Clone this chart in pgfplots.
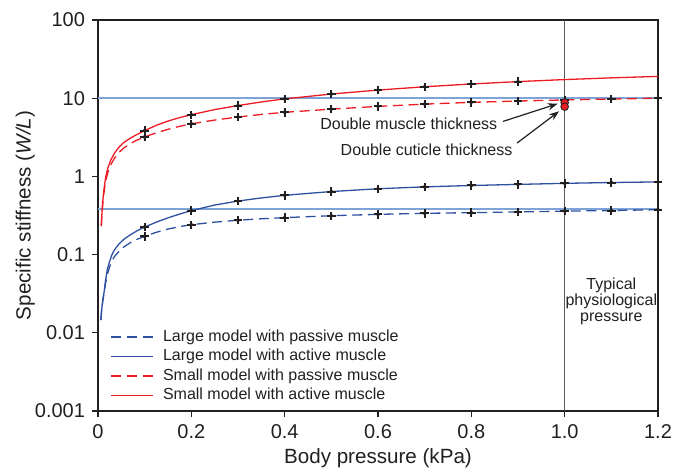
\documentclass[border=0pt]{standalone}
\usepackage{fontspec}
\setmainfont{Liberation Sans}
\usepackage{pgfplots}
\pgfplotsset{compat=1.18}
\usetikzlibrary{arrows.meta}
\definecolor{myred}{RGB}{237,28,36}
\definecolor{myblue}{RGB}{46,80,160}
\definecolor{lblue}{RGB}{125,163,215}
\definecolor{axgray}{RGB}{35,31,32}
\definecolor{vgray}{RGB}{90,90,90}
\pgfdeclareplotmark{pd}{%
  \pgfpathmoveto{\pgfqpoint{-\pgfplotmarksize}{0pt}}%
  \pgfpathlineto{\pgfqpoint{\pgfplotmarksize}{0pt}}%
  \pgfpathmoveto{\pgfqpoint{0pt}{-\pgfplotmarksize}}%
  \pgfpathlineto{\pgfqpoint{0pt}{\pgfplotmarksize}}%
  \pgfusepathqstroke
  \pgfpathmoveto{\pgfqpoint{-1.1pt}{0pt}}%
  \pgfpathlineto{\pgfqpoint{0pt}{1.2pt}}%
  \pgfpathlineto{\pgfqpoint{1.1pt}{0pt}}%
  \pgfpathlineto{\pgfqpoint{0pt}{-1.2pt}}%
  \pgfpathclose
  \pgfusepathqfill
}
\begin{document}
\begin{tikzpicture}
\path[use as bounding box] (-49pt,-31.5pt) rectangle (293.5pt,205.5pt);
\begin{axis}[
  scale only axis, width=280pt, height=195.5pt,
  at={(0pt,0pt)}, anchor=south west,
  xmin=0, xmax=1.2, ymin=0.001, ymax=100, ymode=log,
  xtick={0,0.2,0.4,0.6,0.8,1.0,1.2},
  xticklabels={0,0.2,0.4,0.6,0.8,1.0,1.2},
  ytick={0.001,0.01,0.1,1,10,100},
  yticklabels={0.001,0.01,0.1,1,10,100},
  yminorticks=false, xminorticks=false,
  tick align=outside, xtick pos=bottom, ytick pos=left,
  major tick length=3pt,
  tick style={axgray, line width=0.6pt},
  axis line style={axgray, line width=0.75pt},
  ticklabel style={font=\fontsize{10}{12}\selectfont, text=axgray},
  label style={font=\fontsize{10.3}{12}\selectfont, text=axgray},
  xlabel={Body pressure (kPa)},
  ylabel={Specific stiffness (\textit{W/L})},
  xlabel style={at={(axis description cs:0.5,-0.12)}, anchor=center},
  ylabel style={at={(axis description cs:-0.13,0.5)}, anchor=center},
  clip=false,
  legend cell align=left,
  legend style={draw=none, fill=none, at={(axis description cs:0.022,0.215)}, anchor=north west,
    font=\fontsize{8}{9.6}\selectfont, text=axgray, row sep=0pt, column sep=3.5pt, inner sep=0pt,
    nodes={inner sep=1pt, text height=6pt, text depth=1.75pt}},
  legend image code/.code={\draw[#1] (0pt,0pt) -- (21pt,0pt);},
]
% reference lines
\addplot[lblue, line width=0.8pt, forget plot] coordinates {(0,10) (1.2,10)};
\addplot[lblue, line width=0.8pt, forget plot] coordinates {(0,0.38) (1.2,0.38)};
\addplot[vgray, line width=0.5pt, forget plot] coordinates {(1,0.001) (1,100)};

% Large model, passive muscle
\addplot[myblue, line width=0.65pt, dash pattern=on 5pt off 2.8pt] coordinates {
(0.006,0.0145)(0.008,0.02)(0.0105,0.026)(0.013,0.032)(0.016,0.042)(0.02,0.056)
(0.025,0.07)(0.03,0.083)(0.035,0.094)(0.045,0.11)(0.056,0.126)(0.07,0.143)
(0.085,0.158)(0.1,0.171)(0.125,0.193)(0.15,0.212)(0.175,0.228)(0.2,0.241)
(0.25,0.26)(0.3,0.275)(0.35,0.287)(0.4,0.297)(0.5,0.314)(0.6,0.327)(0.7,0.337)
(0.8,0.344)(0.9,0.351)(1.0,0.36)(1.1,0.366)(1.2,0.375)};
\addlegendentry{Large model with passive muscle}

% Large model, active muscle
\addplot[myblue, line width=0.65pt] coordinates {
(0.006,0.0145)(0.008,0.02)(0.0105,0.027)(0.013,0.033)(0.016,0.046)(0.02,0.065)
(0.025,0.082)(0.03,0.1)(0.035,0.114)(0.045,0.137)(0.056,0.158)(0.07,0.18)
(0.084,0.202)(0.1,0.225)(0.125,0.26)(0.15,0.295)(0.175,0.33)(0.2,0.365)
(0.25,0.43)(0.3,0.484)(0.35,0.53)(0.4,0.573)(0.5,0.64)(0.6,0.695)(0.7,0.735)
(0.8,0.765)(0.9,0.79)(1.0,0.815)(1.1,0.835)(1.2,0.85)};
\addlegendentry{Large model with active muscle}

% Small model, passive muscle
\addplot[myred, line width=0.65pt, dash pattern=on 5pt off 2.8pt] coordinates {
(0.007,0.23)(0.0085,0.32)(0.01,0.43)(0.0125,0.6)(0.0165,0.88)(0.021,1.12)
(0.027,1.4)(0.035,1.7)(0.045,2.02)(0.055,2.3)(0.065,2.52)(0.08,2.85)(0.1,3.2)
(0.125,3.6)(0.15,4.0)(0.175,4.37)(0.2,4.7)(0.25,5.25)(0.3,5.75)(0.35,6.2)
(0.4,6.6)(0.5,7.25)(0.6,7.85)(0.7,8.4)(0.8,8.85)(0.9,9.2)(1.0,9.5)(1.1,9.75)(1.2,10.0)};
\addlegendentry{Small model with passive muscle}

% Small model, active muscle
\addplot[myred, line width=0.65pt] coordinates {
(0.007,0.24)(0.0085,0.34)(0.01,0.47)(0.0125,0.66)(0.0165,0.98)(0.021,1.27)
(0.027,1.6)(0.035,1.97)(0.045,2.37)(0.055,2.7)(0.065,2.97)(0.08,3.35)(0.1,3.85)
(0.125,4.5)(0.15,5.1)(0.175,5.65)(0.2,6.15)(0.25,7.15)(0.3,8.05)(0.35,8.95)
(0.4,9.8)(0.5,11.3)(0.6,12.7)(0.7,14.0)(0.8,15.2)(0.9,16.3)(1.0,17.3)(1.1,18.2)(1.2,19.0)};
\addlegendentry{Small model with active muscle}

% markers
\pgfplotsset{mymarks/.style={only marks, mark=pd, mark size=2.1pt, mark options={draw=axgray, fill=axgray, line width=1pt}, forget plot}}
\addplot[mymarks] coordinates {
(0.1,0.171)(0.2,0.241)(0.3,0.275)(0.4,0.297)(0.5,0.314)(0.6,0.327)(0.7,0.337)(0.8,0.344)(0.9,0.351)(1.0,0.36)(1.1,0.366)(1.2,0.375)};
\addplot[mymarks] coordinates {
(0.1,0.225)(0.2,0.365)(0.3,0.484)(0.4,0.573)(0.5,0.64)(0.6,0.695)(0.7,0.735)(0.8,0.765)(0.9,0.79)(1.0,0.815)(1.1,0.835)(1.2,0.85)};
\addplot[mymarks] coordinates {
(0.1,3.2)(0.2,4.7)(0.3,5.75)(0.4,6.6)(0.5,7.25)(0.6,7.85)(0.7,8.4)(0.8,8.85)(0.9,9.2)(1.0,9.5)(1.1,9.75)(1.2,10.0)};
\addplot[mymarks] coordinates {
(0.1,3.85)(0.2,6.15)(0.3,8.05)(0.4,9.8)(0.5,11.3)(0.6,12.7)(0.7,14.0)(0.8,15.2)(0.9,16.3)};

% double thickness points
\addplot[only marks, mark=*, mark size=1.9pt, mark options={fill=myred, draw=axgray, line width=0.45pt}, forget plot] coordinates {(1.0,8.8)(1.0,7.8)};

% annotations
\node[font=\fontsize{8}{9.6}\selectfont, text=axgray] at (axis cs:0.666,4.72) {Double muscle thickness};
\node[font=\fontsize{8}{9.6}\selectfont, text=axgray] at (axis cs:0.704,2.19) {Double cuticle thickness};
\draw[axgray, line width=0.6pt, -{Stealth[length=5pt, width=3.6pt]}] (axis cs:0.868,5.05) -- (axis cs:0.985,8.5);
\draw[axgray, line width=0.6pt, -{Stealth[length=5pt, width=3.6pt]}] (axis cs:0.898,2.67) -- (axis cs:0.988,6.8);
\node[font=\fontsize{8}{8.1}\selectfont, text=axgray, align=center] at (axis cs:1.1,0.0254) {Typical\\physiological\\pressure};
\end{axis}
\end{tikzpicture}
\end{document}
